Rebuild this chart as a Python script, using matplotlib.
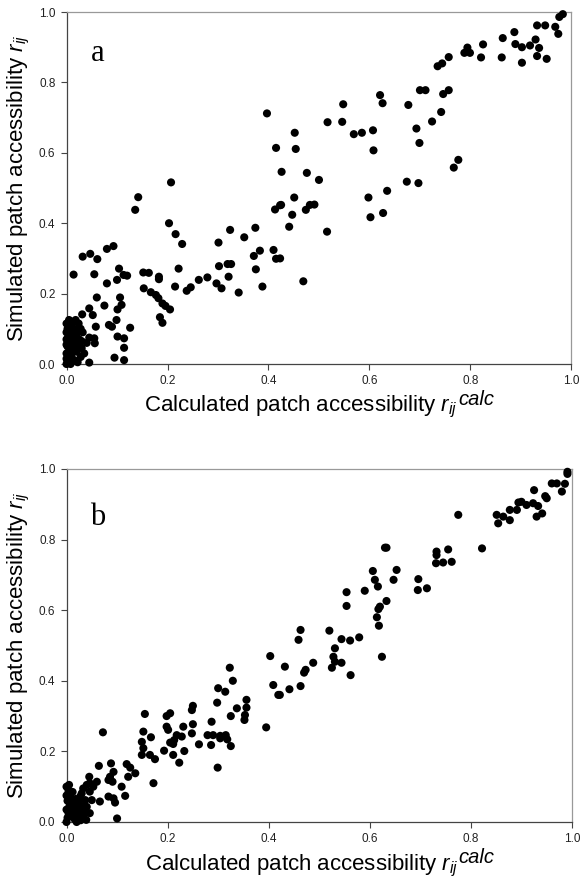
import matplotlib
matplotlib.use("Agg")
import matplotlib.pyplot as plt
from matplotlib import transforms
import numpy as np

plt.rcParams['font.family'] = ['Liberation Sans', 'DejaVu Sans']
plt.rcParams['mathtext.fontset'] = 'custom'
plt.rcParams['mathtext.it'] = 'Liberation Sans:italic'
plt.rcParams['mathtext.rm'] = 'Liberation Sans'

# panel a: calculated vs simulated accessibility
a_x = [0.983, 0.976, 0.932, 0.948, 0.968, 0.974, 0.887, 0.864, 0.929, 0.889, 0.902, 0.918, 0.936, 0.932, 0.951,
       0.902, 0.862, 0.825, 0.821, 0.794, 0.788, 0.799, 0.757, 0.744, 0.735,
       0.700, 0.711, 0.757, 0.746, 0.742, 0.724, 0.693, 0.699, 0.677, 0.621, 0.626, 0.548, 0.517, 0.546, 0.569,
       0.585, 0.607, 0.608, 0.452, 0.454, 0.426, 0.476, 0.500, 0.776, 0.767, 0.674, 0.697, 0.635, 0.598, 0.451,
       0.602, 0.627, 0.425, 0.447, 0.441, 0.474, 0.482, 0.491, 0.516, 0.469, 0.423,
       0.397, 0.415, 0.207, 0.142, 0.136,
       0.203, 0.216, 0.229, 0.222, 0.215, 0.238, 0.246, 0.262, 0.279, 0.297, 0.307, 0.302, 0.301, 0.319, 0.326,
       0.321, 0.324, 0.341, 0.352, 0.371, 0.383, 0.374, 0.375, 0.388, 0.410, 0.415, 0.413, 0.423,
       0.152, 0.163, 0.183, 0.183, 0.153, 0.167, 0.177, 0.182, 0.190, 0.196, 0.205, 0.185, 0.190,
       0.104, 0.100, 0.120, 0.113, 0.080, 0.093, 0.080, 0.106, 0.101, 0.109, 0.099, 0.084, 0.090, 0.075, 0.101,
       0.114, 0.114, 0.114, 0.095, 0.126,
       0.032, 0.047, 0.061, 0.014, 0.055, 0.060, 0.045, 0.052, 0.031, 0.058, 0.045, 0.056, 0.055, 0.045,
       0.000, 0.002, 0.004, 0.000, 0.006, 0.002, 0.008, 0.000, 0.004, 0.010, 0.002, 0.006, 0.012, 0.018, 0.024,
       0.015, 0.020, 0.012, 0.018, 0.025, 0.030, 0.014, 0.020, 0.010, 0.016, 0.008, 0.022, 0.028, 0.035, 0.030,
       0.040, 0.032, 0.028, 0.005, 0.000, 0.000, 0.000, 0.000, 0.012, 0.024]
a_y = [0.994, 0.986, 0.962, 0.962, 0.958, 0.938, 0.943, 0.926, 0.922, 0.909, 0.900, 0.905, 0.898, 0.875, 0.867,
       0.856, 0.871, 0.908, 0.871, 0.899, 0.884, 0.884, 0.872, 0.854, 0.846,
       0.778, 0.778, 0.778, 0.767, 0.716, 0.689, 0.669, 0.628, 0.736, 0.764, 0.741, 0.738, 0.687, 0.688, 0.653,
       0.657, 0.664, 0.607, 0.657, 0.611, 0.546, 0.543, 0.523, 0.580, 0.558, 0.518, 0.514, 0.492, 0.473, 0.473,
       0.417, 0.429, 0.452, 0.424, 0.390, 0.438, 0.452, 0.453, 0.376, 0.235, 0.300,
       0.712, 0.614, 0.516, 0.474, 0.438,
       0.400, 0.369, 0.341, 0.271, 0.220, 0.208, 0.218, 0.239, 0.246, 0.229, 0.215, 0.278, 0.345, 0.284, 0.284,
       0.248, 0.381, 0.203, 0.360, 0.307, 0.322, 0.387, 0.269, 0.220, 0.324, 0.299, 0.439, 0.451,
       0.260, 0.259, 0.248, 0.241, 0.215, 0.204, 0.196, 0.187, 0.172, 0.165, 0.155, 0.133, 0.117,
       0.271, 0.239, 0.251, 0.253, 0.327, 0.335, 0.229, 0.189, 0.155, 0.168, 0.125, 0.111, 0.106, 0.166, 0.078,
       0.073, 0.046, 0.011, 0.018, 0.103,
       0.305, 0.313, 0.298, 0.254, 0.255, 0.189, 0.158, 0.139, 0.141, 0.106, 0.075, 0.059, 0.073, 0.004,
       0.000, 0.010, 0.020, 0.030, 0.040, 0.050, 0.060, 0.070, 0.080, 0.090, 0.100, 0.110, 0.120, 0.125, 0.115,
       0.100, 0.085, 0.075, 0.060, 0.070, 0.065, 0.045, 0.035, 0.020, 0.010, 0.000, 0.005, 0.020, 0.030, 0.045,
       0.060, 0.090, 0.100, 0.125, 0.115, 0.090, 0.055, 0.015, 0.035, 0.050]

# panel b
b_x = [0.991, 0.991, 0.960, 0.970, 0.986, 0.980, 0.925, 0.947, 0.950, 0.894, 0.900, 0.910, 0.923, 0.933, 0.941,
       0.930, 0.877, 0.891, 0.851, 0.864, 0.877, 0.854, 0.775, 0.822, 0.630, 0.633, 0.732, 0.732, 0.755, 0.731,
       0.745, 0.762,
       0.606, 0.653, 0.610, 0.616, 0.647, 0.696, 0.695, 0.713, 0.590, 0.554, 0.554, 0.633, 0.620, 0.617, 0.614,
       0.618, 0.624,
       0.463, 0.459, 0.520, 0.544, 0.561, 0.579, 0.531, 0.528, 0.531, 0.544, 0.525, 0.562, 0.488, 0.473, 0.470,
       0.432, 0.463, 0.441, 0.422,
       0.403, 0.409, 0.419, 0.395,
       0.323, 0.329, 0.325, 0.300, 0.314, 0.298, 0.337, 0.356, 0.356, 0.353, 0.352,
       0.287, 0.279, 0.290, 0.304, 0.315, 0.318, 0.325, 0.286, 0.304, 0.299, 0.262,
       0.250, 0.248, 0.250, 0.248, 0.231, 0.228, 0.233, 0.218, 0.213, 0.211, 0.223,
       0.198, 0.205, 0.198, 0.201, 0.205, 0.211, 0.193,
       0.155, 0.152, 0.167, 0.149, 0.152, 0.149, 0.165, 0.175, 0.172,
       0.072, 0.064, 0.088, 0.093, 0.086, 0.091, 0.083, 0.119, 0.126, 0.122, 0.136, 0.109, 0.116, 0.083, 0.093,
       0.096, 0.100, 0.066,
       0.045, 0.046, 0.040, 0.033, 0.030, 0.046, 0.037, 0.050, 0.040, 0.046, 0.039, 0.060, 0.053, 0.027, 0.020,
       0.010,
       0.000, 0.002, 0.004, 0.000, 0.006, 0.002, 0.000, 0.004, 0.000, 0.008, 0.012, 0.010, 0.016, 0.020, 0.015,
       0.022, 0.025, 0.030, 0.012, 0.018, 0.024, 0.032, 0.035, 0.005, 0.028]
b_y = [0.992, 0.986, 0.959, 0.959, 0.958, 0.936, 0.940, 0.923, 0.917, 0.905, 0.907, 0.898, 0.903, 0.895, 0.874,
       0.865, 0.884, 0.884, 0.870, 0.865, 0.855, 0.846, 0.870, 0.775, 0.777, 0.777, 0.766, 0.756, 0.772, 0.733,
       0.735, 0.737,
       0.711, 0.714, 0.686, 0.667, 0.686, 0.688, 0.657, 0.662, 0.655, 0.651, 0.612, 0.626, 0.610, 0.603, 0.580,
       0.556, 0.468,
       0.544, 0.516, 0.542, 0.518, 0.514, 0.523, 0.492, 0.468, 0.454, 0.451, 0.437, 0.416, 0.451, 0.431, 0.423,
       0.440, 0.385, 0.376, 0.360,
       0.470, 0.388, 0.360, 0.268,
       0.437, 0.400, 0.300, 0.379, 0.369, 0.338, 0.322, 0.346, 0.324, 0.303, 0.289,
       0.284, 0.246, 0.246, 0.244, 0.246, 0.234, 0.215, 0.218, 0.237, 0.154, 0.220,
       0.329, 0.317, 0.277, 0.251, 0.270, 0.242, 0.201, 0.246, 0.232, 0.221, 0.168,
       0.300, 0.308, 0.270, 0.261, 0.225, 0.190, 0.202,
       0.306, 0.256, 0.240, 0.227, 0.209, 0.190, 0.190, 0.178, 0.110,
       0.254, 0.159, 0.166, 0.142, 0.128, 0.114, 0.119, 0.164, 0.154, 0.128, 0.138, 0.100, 0.074, 0.072, 0.067,
       0.055, 0.010, 0.058,
       0.128, 0.110, 0.105, 0.095, 0.081, 0.086, 0.062, 0.062, 0.043, 0.025, 0.006, 0.114, 0.100, 0.072, 0.053,
       0.058,
       0.000, 0.012, 0.025, 0.035, 0.045, 0.060, 0.075, 0.088, 0.100, 0.070, 0.040, 0.020, 0.008, 0.000, 0.030,
       0.020, 0.035, 0.010, 0.085, 0.065, 0.060, 0.045, 0.025, 0.105, 0.005]

ticks = [0.0, 0.2, 0.4, 0.6, 0.8, 1.0]
tick_labels = ['0.0', '0.2', '0.4', '0.6', '0.8', '1.0']
panels = [('a', a_x, a_y, 0.862), ('b', b_x, b_y, 0.841)]

fig = plt.figure(figsize=(5.81, 8.85), dpi=100)
positions = [[0.1145, 0.5887, 0.869, 0.3977], [0.1145, 0.0712, 0.870, 0.3989]]

labels = []
for (letter, xs, ys, ly), pos in zip(panels, positions):
    ax = fig.add_axes(pos)
    ax.scatter(xs, ys, s=34, c='black', edgecolors='none', clip_on=False, zorder=3)
    ax.set_xlim(0, 1)
    ax.set_ylim(0, 1)
    ax.set_xticks(ticks)
    ax.set_xticklabels(tick_labels)
    ax.set_yticks(ticks)
    ax.set_yticklabels(tick_labels)
    ax.tick_params(direction='out', length=4, width=0.8, colors='#444444', labelsize=8.5,
                   labelcolor='#222222', pad=4)
    for side in ['left', 'bottom']:
        ax.spines[side].set_color('#444444')
        ax.spines[side].set_linewidth(0.9)
    for side in ['top', 'right']:
        ax.spines[side].set_color('#999999')
        ax.spines[side].set_linewidth(0.9)
    ax.set_ylabel(r'Simulated patch accessibility $r_{ij}$', fontsize=16, labelpad=5)
    # x label: main part + big raised "calc" superscript, placed after measuring
    main = ax.text(0.5, -0.136, r'Calculated patch accessibility $r_{ij}$', transform=ax.transAxes,
                   ha='center', va='baseline', fontsize=16)
    labels.append((ax, main))
    ax.text(0.062, ly, letter, fontsize=22, family='Liberation Serif', ha='center', va='baseline')

fig.canvas.draw()
renderer = fig.canvas.get_renderer()
for ax, main in labels:
    calc = fig.text(0, 0, 'calc', fontsize=14.5, style='italic', va='baseline', ha='left')
    wc = calc.get_window_extent(renderer).width
    axbox = ax.get_window_extent(renderer)
    main.set_x(0.5 - (wc / 2) / axbox.width)
    fig.canvas.draw()
    bb = main.get_window_extent(renderer)
    calc.remove()
    # shift "calc" to the right end of the main label, raised a bit
    tr = transforms.offset_copy(ax.transAxes, fig=fig, x=(bb.x1 - axbox.x0) * 72 / fig.dpi + 0.5,
                                y=6.5 * 72 / fig.dpi, units='points')
    ax.text(0, -0.136, 'calc', transform=tr, fontsize=14.5, style='italic', va='baseline', ha='left')

fig.savefig('out.png', dpi=100)
